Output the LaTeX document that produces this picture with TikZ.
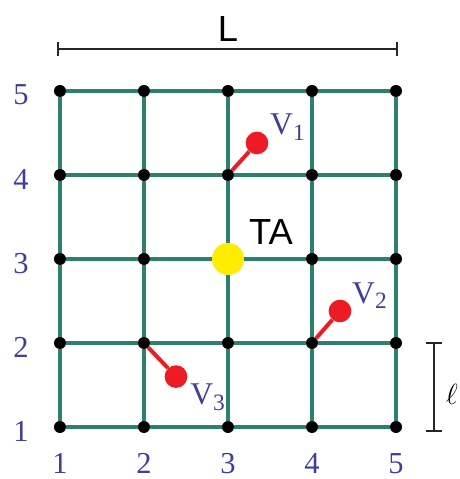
\documentclass[tikz,border=0pt]{standalone}
\usepackage{fontspec}
\setmainfont{Liberation Serif}
\setsansfont{Liberation Sans}
\definecolor{gridteal}{RGB}{44,128,109}
\definecolor{axisblue}{RGB}{63,63,153}
\definecolor{vred}{RGB}{237,28,36}
\definecolor{tayellow}{RGB}{255,237,0}
\newcommand{\vlabel}[1]{V\raisebox{-5pt}{\fontsize{20}{20}\selectfont #1}}

\begin{document}
\begin{tikzpicture}[x=2.52cm, y=2.52cm,
    gridline/.style={gridteal, line width=3.3pt},
    dot/.style={circle, fill=black, inner sep=0pt, minimum size=0.36cm},
    vdot/.style={circle, fill=vred, inner sep=0pt, minimum size=0.68cm},
    vlink/.style={vred, line width=3.4pt},
    vtext/.style={axisblue, anchor=base west, inner sep=0pt, font=\fontsize{27}{29}\selectfont},
    axisnum/.style={axisblue, inner sep=0pt, font=\fontsize{26}{28}\selectfont},
    bar/.style={black!85, line width=1.6pt}]
    \useasboundingbox (0.286,0.381) rectangle (5.75,6.083);

    % lattice sites
    \foreach \i in {1,...,5}
        \foreach \j in {1,...,5}
            \node[dot] (p-\i-\j) at (\i,\j) {};
    % lattice bonds
    \foreach \i [count=\k from 2] in {1,...,4}
        \foreach \j in {1,...,5} {
            \draw[gridline] (p-\i-\j) -- (p-\k-\j);
            \draw[gridline] (p-\j-\i) -- (p-\j-\k);
        }

    % atom TA
    \node[circle, fill=tayellow, inner sep=0pt, minimum size=0.96cm] (ta) at (3,3) {};
    \node[font=\sffamily\fontsize{31}{33}\selectfont, inner sep=0pt] (ta-label) at (3.512,3.321) {TA};

    % vacancies
    \node[vdot] (v1) at (3.345,4.381) {};
    \node[vdot] (v2) at (4.333,2.381) {};
    \node[vdot] (v3) at (2.381,1.600) {};
    \draw[vlink] (p-3-4) -- (v1);
    \draw[vlink] (p-4-2) -- (v2);
    \draw[vlink] (p-2-2) -- (v3);
    \node[vtext] (v1-label) at (3.5,4.476) {\vlabel{1}};
    \node[vtext] (v2-label) at (4.476,2.476) {\vlabel{2}};
    \node[vtext] (v3-label) at (2.548,1.262) {\vlabel{3}};

    % axis numbers
    \foreach \j in {1,...,5}
        \node[axisnum] (row-\j) at (0.536,\j-0.05) {\j};
    \foreach \i in {1,...,5}
        \node[axisnum, anchor=north] (col-\i) at (\i,0.69) {\i};

    % size bars
    \coordinate (L-left) at (0.976,5.5);
    \coordinate (L-right) at (5.012,5.5);
    \draw[bar] (L-left) -- (L-right);
    \draw[bar] (L-left) ++(0,-0.083) -- ++(0,0.166);
    \draw[bar] (L-right) ++(0,-0.083) -- ++(0,0.166);
    \node[font=\sffamily\fontsize{31}{33}\selectfont, inner sep=0pt] (L-label) at (3,5.738) {L};
    \coordinate (l-top) at (5.449,2.0);
    \coordinate (l-bottom) at (5.449,0.952);
    \draw[bar] (l-top) -- (l-bottom);
    \draw[bar] (l-top) ++(-0.095,0) -- ++(0.19,0);
    \draw[bar] (l-bottom) ++(-0.095,0) -- ++(0.19,0);
    \node[anchor=west, inner sep=0pt, font=\fontsize{30}{32}\selectfont] (l-label) at (5.59,1.39) {$\ell$};
\end{tikzpicture}
\end{document}
